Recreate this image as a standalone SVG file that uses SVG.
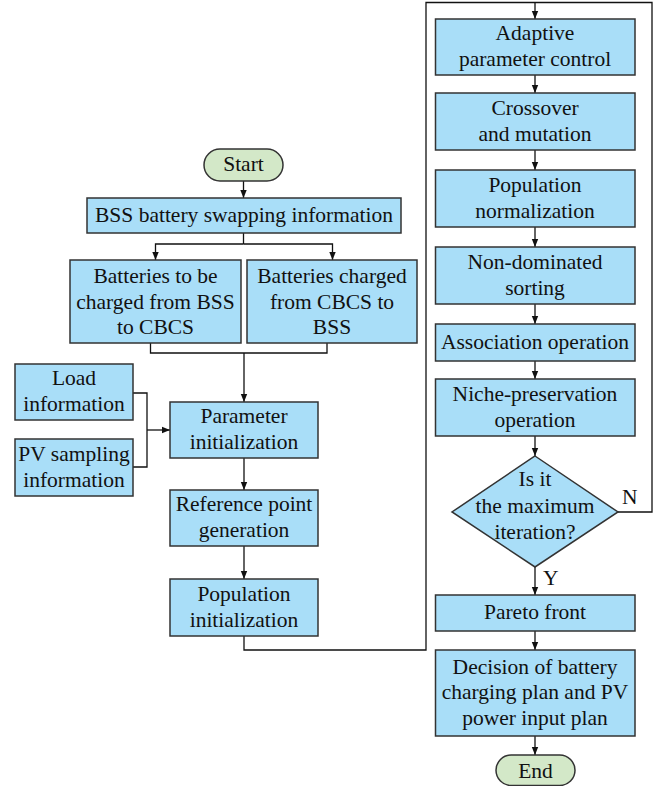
<svg xmlns="http://www.w3.org/2000/svg" width="660" height="786" viewBox="0 0 660 786">
<defs>
<marker id="ah" markerWidth="8" markerHeight="8" refX="8" refY="4" orient="auto" markerUnits="userSpaceOnUse">
<path d="M0,0.8 L8,4 L0,7.2 Z" fill="#111"/>
</marker>
<style>
.box{fill:#a9def8;stroke:#333;stroke-width:1.5}
.term{fill:#d3e8c8;stroke:#333;stroke-width:1.5}
.t{font-family:"Liberation Serif","Times New Roman",serif;font-size:21.5px;fill:#111;text-anchor:middle}
.l{font-family:"Liberation Serif","Times New Roman",serif;font-size:21.5px;fill:#111}
.c{fill:none;stroke:#111;stroke-width:1.3}
.a{fill:none;stroke:#111;stroke-width:1.3;marker-end:url(#ah)}
</style>
</defs>
<rect width="660" height="786" fill="#fff"/>
<g id="connectors">
<line class="a" x1="243.5" y1="181" x2="243.5" y2="198"/>
<polyline class="c" points="243.5,233 243.5,244"/>
<polyline class="a" points="243.5,244 155.5,244 155.5,260"/>
<polyline class="a" points="243.5,244 332.5,244 332.5,260"/>
<polyline class="c" points="150.5,343 150.5,353 327,353 327,343"/>
<line class="a" x1="244" y1="353" x2="244" y2="402"/>
<polyline class="c" points="133,393 147,393 147,467 133,467"/>
<line class="a" x1="147" y1="430" x2="170" y2="430"/>
<line class="a" x1="244" y1="458" x2="244" y2="490"/>
<line class="a" x1="244" y1="546" x2="244" y2="579"/>
<polyline class="c" points="244,636 244,650 426,650 426,2.5 652,2.5 652,512 618,512"/>
<line class="a" x1="535" y1="2.5" x2="535" y2="19"/>
<line class="a" x1="535" y1="75" x2="535" y2="93"/>
<line class="a" x1="535" y1="150" x2="535" y2="170"/>
<line class="a" x1="535" y1="227" x2="535" y2="247"/>
<line class="a" x1="535" y1="304" x2="535" y2="324"/>
<line class="a" x1="535" y1="361" x2="535" y2="379"/>
<line class="a" x1="535" y1="436" x2="535" y2="456"/>
<line class="a" x1="535" y1="567" x2="535" y2="595"/>
<line class="a" x1="535" y1="631" x2="535" y2="650"/>
<line class="a" x1="535" y1="736" x2="535" y2="755"/>
<text class="l" x="622" y="504">N</text>
<text class="l" x="543" y="585">Y</text>
</g>
<g id="start">
<rect class="term" x="204" y="149" width="79" height="32" rx="16"/>
<text class="t" x="243.5" y="171">Start</text>
</g>
<g id="bss">
<rect class="box" x="87" y="198" width="314" height="35"/>
<text class="t" x="244" y="221.5">BSS battery swapping information</text>
</g>
<g id="bss-to-cbcs">
<rect class="box" x="70" y="260" width="171" height="83"/>
<text class="t" x="155.5" y="283">Batteries to be</text>
<text class="t" x="155.5" y="308.5">charged from BSS</text>
<text class="t" x="155.5" y="334">to CBCS</text>
</g>
<g id="cbcs-to-bss">
<rect class="box" x="247" y="260" width="170" height="83"/>
<text class="t" x="332" y="283">Batteries charged</text>
<text class="t" x="332" y="308.5">from CBCS to</text>
<text class="t" x="332" y="334">BSS</text>
</g>
<g id="load">
<rect class="box" x="15" y="364" width="118" height="56"/>
<text class="t" x="74" y="385">Load</text>
<text class="t" x="74" y="411">information</text>
</g>
<g id="pv">
<rect class="box" x="15" y="439" width="118" height="57"/>
<text class="t" x="74" y="461">PV sampling</text>
<text class="t" x="74" y="487">information</text>
</g>
<g id="param-init">
<rect class="box" x="170" y="402" width="148" height="56"/>
<text class="t" x="244" y="423">Parameter</text>
<text class="t" x="244" y="449">initialization</text>
</g>
<g id="ref-point">
<rect class="box" x="170" y="490" width="148" height="56"/>
<text class="t" x="244" y="511">Reference point</text>
<text class="t" x="244" y="537">generation</text>
</g>
<g id="pop-init">
<rect class="box" x="170" y="579" width="148" height="57"/>
<text class="t" x="244" y="600.5">Population</text>
<text class="t" x="244" y="626.5">initialization</text>
</g>
<g id="adaptive">
<rect class="box" x="435.5" y="19" width="199.5" height="56"/>
<text class="t" x="535" y="40">Adaptive</text>
<text class="t" x="535" y="66">parameter control</text>
</g>
<g id="crossover">
<rect class="box" x="435.5" y="93" width="199.5" height="57"/>
<text class="t" x="535" y="114.5">Crossover</text>
<text class="t" x="535" y="140.5">and mutation</text>
</g>
<g id="pop-norm">
<rect class="box" x="435.5" y="170" width="199.5" height="57"/>
<text class="t" x="535" y="191.5">Population</text>
<text class="t" x="535" y="217.5">normalization</text>
</g>
<g id="non-dominated">
<rect class="box" x="435.5" y="247" width="199.5" height="57"/>
<text class="t" x="535" y="268.5">Non-dominated</text>
<text class="t" x="535" y="294.5">sorting</text>
</g>
<g id="association">
<rect class="box" x="435.5" y="324" width="199.5" height="37"/>
<text class="t" x="535" y="348.5">Association operation</text>
</g>
<g id="niche">
<rect class="box" x="435.5" y="379" width="199.5" height="57"/>
<text class="t" x="535" y="400.5">Niche-preservation</text>
<text class="t" x="535" y="426.5">operation</text>
</g>
<g id="decision">
<polygon class="box" points="535,456 618,512 535,567 452,512"/>
<text class="t" x="535" y="486">Is it</text>
<text class="t" x="535" y="512.5">the maximum</text>
<text class="t" x="535" y="539">iteration?</text>
</g>
<g id="pareto">
<rect class="box" x="435.5" y="595" width="199.5" height="36"/>
<text class="t" x="535" y="619">Pareto front</text>
</g>
<g id="plan">
<rect class="box" x="435.5" y="650" width="199.5" height="86"/>
<text class="t" x="535" y="673.5">Decision of battery</text>
<text class="t" x="535" y="699">charging plan and PV</text>
<text class="t" x="535" y="724.5">power input plan</text>
</g>
<g id="end">
<rect class="term" x="496" y="755" width="79" height="30.5" rx="15.25"/>
<text class="t" x="535.5" y="778">End</text>
</g>
</svg>
